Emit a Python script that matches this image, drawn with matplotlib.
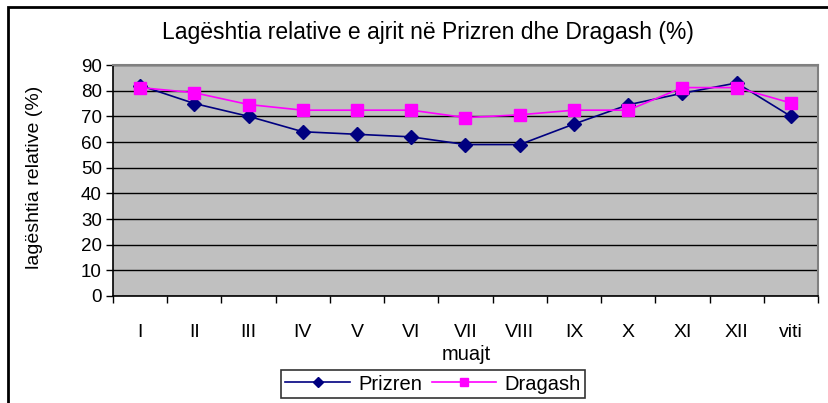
import numpy as np
import matplotlib
matplotlib.use("Agg")
import matplotlib.pyplot as plt
from matplotlib.patches import Rectangle

plt.rcParams['font.family'] = ['Liberation Sans', 'DejaVu Sans']

# muajt (months) + annual value
muajt = ['I', 'II', 'III', 'IV', 'V', 'VI', 'VII', 'VIII', 'IX', 'X', 'XI', 'XII', 'viti']
prizren = [82, 75, 70, 64, 63, 62, 59, 59, 67, 74.5, 79, 83, 70]
dragash = [81.2, 79.2, 74.6, 72.4, 72.4, 72.4, 69.5, 70.6, 72.4, 72.4, 81.2, 81.2, 75.2]

fig = plt.figure(figsize=(8.29, 4.03), dpi=100)
ax = fig.add_axes([113/829, 1-296/403, (818-113)/829, (296-65)/403])

# outer chart frame (only left/top visible in the picture)
fig.patches.append(Rectangle((8/829, -0.1), 1.2, 1 - 7/403 + 0.1, transform=fig.transFigure,
                             fill=False, edgecolor='black', linewidth=2))

x = np.arange(len(muajt))
ax.set_facecolor('#c0c0c0')
ax.plot(x, prizren, color='#000080', marker='D', markersize=7, linewidth=1.2, label='Prizren')
ax.plot(x, dragash, color='#ff00ff', marker='s', markersize=8, linewidth=1.2, label='Dragash')

ax.set_xlim(-0.5, len(muajt) - 0.5)
ax.set_ylim(0, 90)
ax.set_yticks(range(0, 91, 10))
ax.set_xticks(x)
ax.set_xticklabels(muajt)
ax.set_xticks(np.arange(-0.5, len(muajt)), minor=True)
ax.tick_params(axis='x', which='major', length=0, pad=20, labelsize=14)
ax.tick_params(axis='x', which='minor', length=5, width=1, direction='out')
ax.tick_params(axis='y', length=5, width=1, labelsize=13.5, pad=3)
ax.grid(axis='y', color='black', linewidth=1)
ax.set_axisbelow(True)

for s in ['top', 'right']:
    ax.spines[s].set_color('#808080')
    ax.spines[s].set_linewidth(1.5)
for s in ['left', 'bottom']:
    ax.spines[s].set_color('black')
    ax.spines[s].set_linewidth(1.2)

fig.text(428/829, 1-33/403, 'Lagështia relative e ajrit në Prizren dhe Dragash (%)',
         ha='center', va='center', fontsize=16.5)
fig.text(35/829, 1-177/403, 'lagështia relative (%)', rotation=90,
         ha='center', va='center', fontsize=14)
fig.text(466/829, 1-355/403, 'muajt', ha='center', va='center', fontsize=14.5)

leg = fig.legend(loc='center', bbox_to_anchor=(433/829, 1-384/403), ncol=2,
                 fontsize=14.5, frameon=True, fancybox=False, edgecolor='black',
                 handlelength=3.2, columnspacing=0.5, handletextpad=0.4,
                 borderpad=0.2, markerscale=0.8)
leg.get_frame().set_linewidth(1.2)

fig.savefig('out.png', dpi=100)
